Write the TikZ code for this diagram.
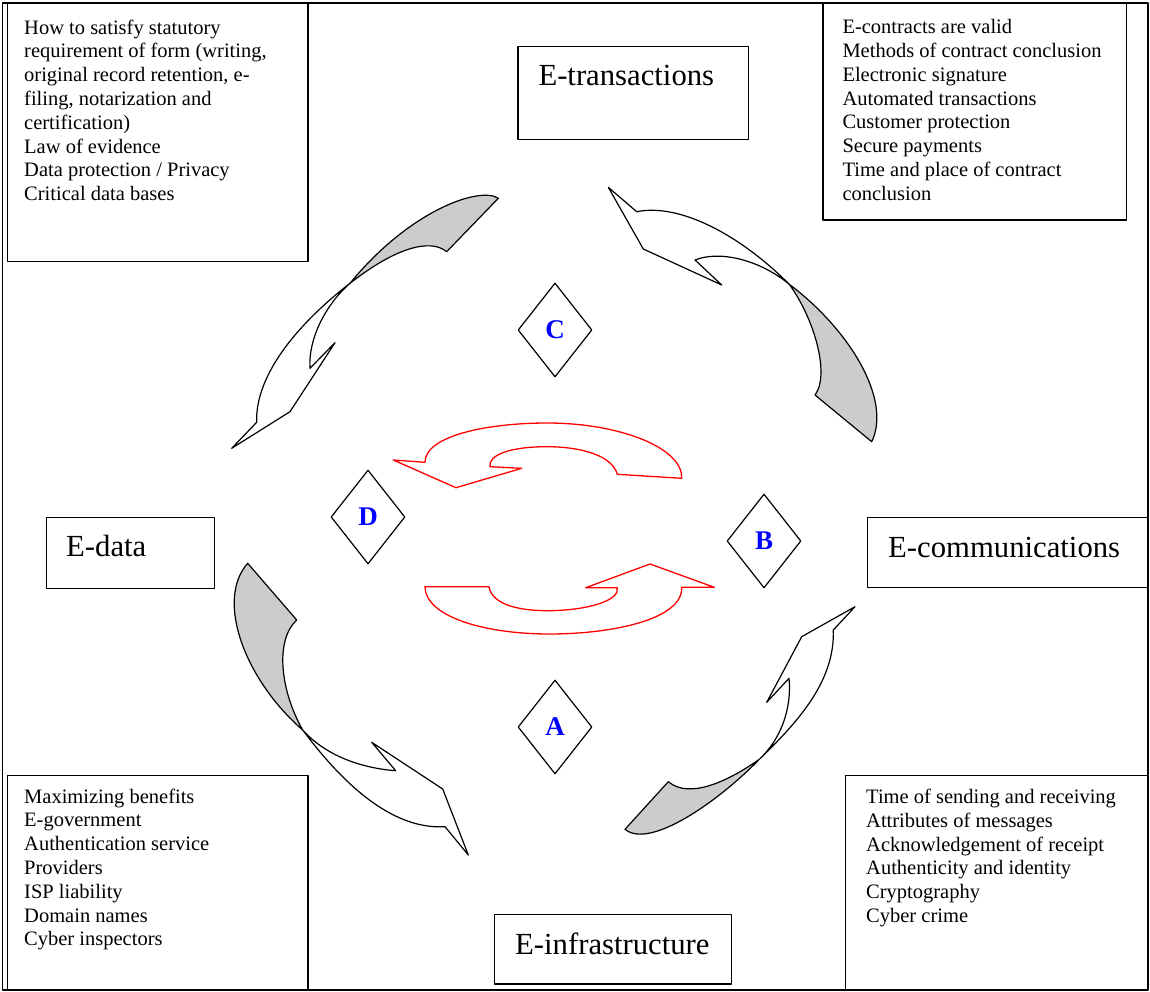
\documentclass[tikz,border=0pt]{standalone}
\usepackage{fontspec}
\setmainfont{Liberation Serif}
\usetikzlibrary{shapes.geometric}
\definecolor{shade}{gray}{0.8}
\begin{document}
\begin{tikzpicture}[x=1pt,y=-1pt, line join=round,
  box/.style={draw, line width=1.2pt, inner sep=0, anchor=north west},
  listtext/.style={anchor=north west, inner sep=0, align=left, font=\fontsize{20.5}{23.8}\selectfont},
  biglabel/.style={anchor=base west, inner sep=0, font=\fontsize{30.7}{36}\selectfont},
  dia/.style={diamond, draw, line width=1.2pt, minimum width=74pt, minimum height=94pt, inner sep=0, text=blue, font=\fontsize{27}{30}\selectfont\bfseries},
  bendwhite/.style={draw=black, line width=1.2pt, fill=white},
  bendgrey/.style={draw=black, line width=1.2pt, fill=shade},
  redarrow/.style={draw=red, line width=1.3pt}]
\useasboundingbox (0,0) rectangle (1150,992);
% outer frame
\draw[line width=1.2pt] (2.5,3) rectangle (1148,990);

% text boxes
\node[box, minimum width=300.8pt, minimum height=258pt] (tl) at (6.5,3) {};
\node[listtext] (tltext) at (24,17.3) {\strut How to satisfy statutory\\requirement of form (writing,\\original record retention, e-\\filing, notarization and\\certification)\\Law of evidence\\Data protection / Privacy\\Critical data bases};

\node[box, minimum width=303.4pt, minimum height=216.5pt] (tr) at (822.3,3) {};
\node[listtext] (trtext) at (842.3,16.8) {\strut E-contracts are valid\\Methods of contract conclusion\\Electronic signature\\Automated transactions\\Customer protection\\Secure payments\\Time and place of contract\\conclusion};

\node[box, minimum width=300.8pt, minimum height=214pt] (bl) at (6.5,775) {};
\node[listtext] (bltext) at (24,786.3) {\strut Maximizing benefits\\E-government\\Authentication service\\Providers\\ISP liability\\Domain names\\Cyber inspectors};

\node[box, minimum width=303pt, minimum height=214pt] (br) at (845,775) {};
\node[listtext] (brtext) at (866,786.6) {\strut Time of sending and receiving\\Attributes of messages\\Acknowledgement of receipt\\Authenticity and identity\\Cryptography\\Cyber crime};

% label boxes
\node[box, minimum width=230.4pt, minimum height=93.3pt] (etrbox) at (517.3,45.7) {};
\node[biglabel] (etr) at (538.3,86) {E-transactions};
\node[box, minimum width=168.3pt, minimum height=71pt] (edatabox) at (45.7,516.7) {};
\node[biglabel] (edata) at (66,556.7) {E-data};
\node[box, minimum width=280pt, minimum height=70pt] (ecombox) at (867,517) {};
\node[biglabel] (ecom) at (888,557) {E-communications};
\node[box, minimum width=236.7pt, minimum height=69.3pt] (einfbox) at (494,914) {};
\node[biglabel] (einf) at (515,954) {E-infrastructure};

% diamonds
\node[dia] (C) at (555,330) {C};
\node[dia] (D) at (368,517) {D};
\node[dia] (B) at (764,541) {B};
\node[dia] (A) at (555,727) {A};

% top-left curved arrow
\path[bendgrey] (498.3,198.3) .. controls (480,186) and (410,210) .. (350,283.3)
  .. controls (395,248) and (430,238) .. (446.7,251.7) -- cycle;
\path[bendwhite] (350,283.3) .. controls (290,330) and (255,380) .. (256.7,422.3)
  -- (231.7,448.3) -- (290,411.7) -- (335,342.7) -- (310,368.3)
  .. controls (308,340) and (325,305) .. (350,283.3) -- cycle;

% top-right curved arrow
\path[bendwhite] (608.3,187.3) -- (636.7,211.7)
  .. controls (680,203) and (740,235) .. (789.3,284.3)
  .. controls (760,260) and (720,250) .. (695,260)
  -- (721.7,285) -- (643.3,249) -- cycle;
\path[bendgrey] (789.3,284.3) .. controls (850,330) and (892,400) .. (871.7,441.7)
  -- (815,395) .. controls (830,375) and (815,320) .. (789.3,284.3) -- cycle;

% bottom-left curved arrow
\path[bendgrey] (247.7,563.3) -- (296.7,620)
  .. controls (275,640) and (280,690) .. (302.7,730)
  .. controls (245,680) and (215,600) .. (247.7,563.3) -- cycle;
\path[bendwhite] (302.7,730) .. controls (340,780) and (390,830) .. (445,826.7)
  -- (468.3,855) -- (442.7,789) -- (371.7,742.3) -- (395.7,770.7)
  .. controls (360,768) and (325,755) .. (302.7,730) -- cycle;

% bottom-right curved arrow
\path[bendwhite] (759.3,759.3) .. controls (800,720) and (835,680) .. (833.3,630)
  -- (855,606.7) -- (801.7,636.7) -- (766.7,702.3) -- (789,678.3)
  .. controls (792,710) and (780,740) .. (759.3,759.3) -- cycle;
\path[bendgrey] (759.3,759.3) .. controls (720,800) and (650,850) .. (625,829.3)
  -- (668.3,781.7) .. controls (690,800) and (730,780) .. (759.3,759.3) -- cycle;

% red U-turn arrows
\path[redarrow] (393.3,460) -- (425,462.3)
  .. controls (425,435) and (490,423) .. (547,423)
  .. controls (620,423) and (683,448) .. (681.7,478.3)
  -- (617.3,474.3)
  .. controls (612,455) and (580,446.7) .. (546.7,446.7)
  .. controls (510,446.7) and (488,455) .. (490,466.7)
  -- (521.7,468.3) -- (456,487.7) -- cycle;
\path[redarrow] (425,586.7) -- (489,586.7)
  .. controls (492,605) and (520,611) .. (550,610.7)
  .. controls (590,610) and (620,600) .. (617.3,587.7)
  -- (585.7,587.7) -- (650,564) -- (714.3,587.3) -- (681.7,587.3)
  .. controls (683,620) and (610,634) .. (550,634)
  .. controls (480,634) and (425,615) .. (425,586.7) -- cycle;
\end{tikzpicture}
\end{document}
